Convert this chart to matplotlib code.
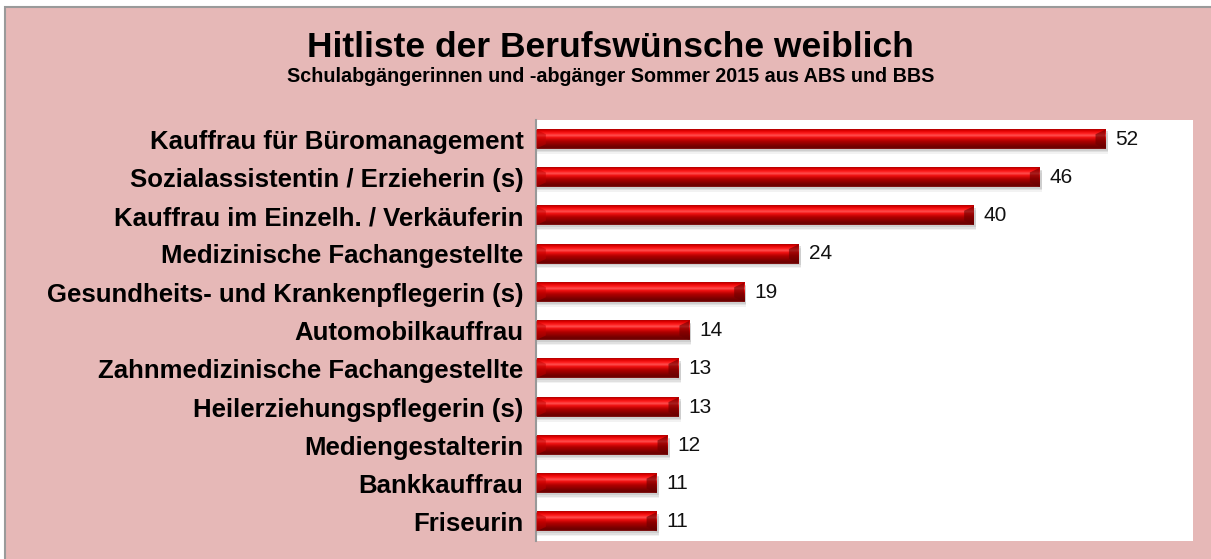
import numpy as np
import matplotlib
matplotlib.use("Agg")
import matplotlib.pyplot as plt
from matplotlib.colors import LinearSegmentedColormap
from matplotlib.patches import Rectangle

plt.rcParams['font.family'] = ['Liberation Sans', 'DejaVu Sans']

categories = [
    "Kauffrau für Büromanagement",
    "Sozialassistentin / Erzieherin (s)",
    "Kauffrau im Einzelh. / Verkäuferin",
    "Medizinische Fachangestellte",
    "Gesundheits- und Krankenpflegerin (s)",
    "Automobilkauffrau",
    "Zahnmedizinische Fachangestellte",
    "Heilerziehungspflegerin (s)",
    "Mediengestalterin",
    "Bankkauffrau",
    "Friseurin",
]
values = [52, 46, 40, 24, 19, 14, 13, 13, 12, 11, 11]

title = "Hitliste der Berufswünsche weiblich"
subtitle = "Schulabgängerinnen und -abgänger Sommer 2015 aus ABS und BBS"

W, H = 1211, 559
fig = plt.figure(figsize=(W / 100, H / 100), dpi=100)
fig.patch.set_facecolor("white")

# background axes with pink frame and gray border
bg = fig.add_axes([0, 0, 1, 1], zorder=-10)
bg.set_xlim(0, W)
bg.set_ylim(H, 0)
bg.axis("off")
bg.add_patch(Rectangle((5, 7), W + 20, H + 20, facecolor="#E6B8B7",
                       edgecolor="#9a9a9a", linewidth=1.5))

ax = fig.add_axes([536 / W, (H - 541) / H, (1193 - 536) / W, (541 - 120) / H])
ax.set_facecolor("white")

n = len(categories)
ypos = np.arange(n)
bar_h = 0.5

cmap = LinearSegmentedColormap.from_list("bar", [
    (0.0, "#b00000"), (0.08, "#e00000"), (0.22, "#ff2020"), (0.32, "#ff5050"),
    (0.42, "#f01010"), (0.60, "#b00000"), (0.85, "#780000"), (0.95, "#6a0000"),
    (1.0, "#8a2020")])
grad = np.linspace(0, 1, 64).reshape(-1, 1)

for y, v in zip(ypos, values):
    # soft shadow below the bar
    for k, a in enumerate([0.45, 0.3, 0.18]):
        ax.add_patch(Rectangle((0.0, y - bar_h / 2 + 0.05 + 0.04 * k), v + 0.2, bar_h,
                               facecolor="#b8b8b8", edgecolor="none", alpha=a, zorder=1))
    ax.imshow(grad, cmap=cmap, aspect="auto", interpolation="bilinear",
              extent=(0, v, y + bar_h / 2, y - bar_h / 2), zorder=2)
    # bevelled ends
    ax.add_patch(plt.Polygon([(v - 0.9, y - bar_h / 2 + 0.12), (v, y - bar_h / 2),
                              (v, y + bar_h / 2), (v - 0.9, y + bar_h / 2 - 0.12)],
                             closed=True, facecolor="#6a0000", alpha=0.6,
                             edgecolor="none", zorder=3))
    ax.add_patch(plt.Polygon([(0, y - bar_h / 2), (0.9, y - bar_h / 2 + 0.12),
                              (0.9, y + bar_h / 2 - 0.12), (0, y + bar_h / 2)],
                             closed=True, facecolor="#c00000", alpha=0.5,
                             edgecolor="none", zorder=3))
    ax.text(v + 0.9, y, str(v), va="center", ha="left", fontsize=15, color="#111111")

ax.set_xlim(0, 60)
ax.set_ylim(n - 0.5, -0.5)
ax.set_yticks(ypos)
ax.set_yticklabels(categories, fontsize=18.5, fontweight="bold")
ax.tick_params(axis="y", length=0, pad=9)
ax.set_xticks([])
for s in ["top", "right", "bottom"]:
    ax.spines[s].set_visible(False)
ax.spines["left"].set_color("#999999")
ax.spines["left"].set_linewidth(1.5)

fig.text(610 / W, 1 - 57 / H, title, ha="center", va="baseline",
         fontsize=25.5, fontweight="bold")
fig.text(611 / W, 1 - 82 / H, subtitle, ha="center", va="baseline",
         fontsize=14.2, fontweight="bold")

fig.savefig("out.png", dpi=100, facecolor=fig.get_facecolor())
